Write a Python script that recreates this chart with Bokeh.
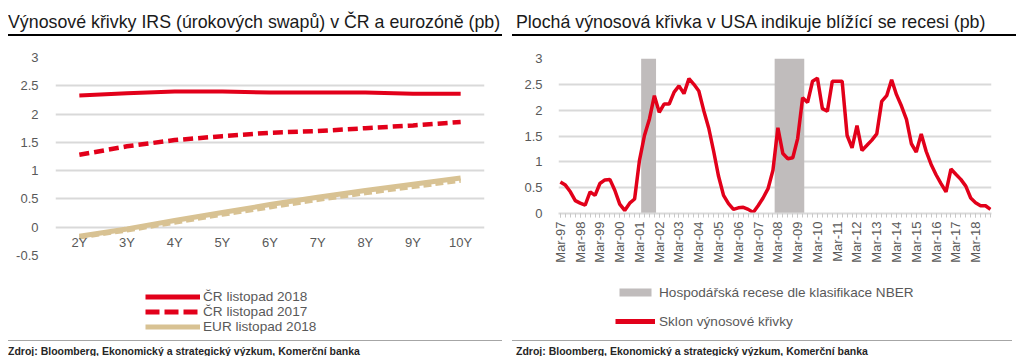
import math
import pandas as pd
from bokeh.plotting import figure
from bokeh.models import (FactorRange, Range1d, FixedTicker, NumeralTickFormatter,
                          Legend, Div, DatetimeTickFormatter)
from bokeh.layouts import row, column
from bokeh.embed import file_html
from bokeh.resources import INLINE

FONT = "Liberation Sans"
RED = "#e2001a"
TAN = "#d8c293"
REC_GREY = "#c0bcbc"
GRID = "#d9d9d9"
LABEL = "#595959"

# ---------------- left chart data ----------------
tenors = ["2Y", "3Y", "4Y", "5Y", "6Y", "7Y", "8Y", "9Y", "10Y"]
cz_nov2018 = [2.33, 2.37, 2.40, 2.40, 2.38, 2.38, 2.38, 2.36, 2.36]
cz_nov2017 = [1.28, 1.43, 1.54, 1.61, 1.67, 1.70, 1.75, 1.80, 1.86]
eur_nov2018 = [-0.16, -0.03, 0.12, 0.26, 0.40, 0.53, 0.65, 0.76, 0.87]
eur_nov2017 = [-0.18, -0.06, 0.08, 0.22, 0.35, 0.48, 0.60, 0.71, 0.82]
left_yticks = [-0.5, 0, 0.5, 1, 1.5, 2, 2.5, 3]

# ---------------- right chart data ----------------
us_dates = pd.date_range("1997-03-01", periods=88, freq="3MS")
us_slope = [0.61, 0.55, 0.42, 0.25, 0.20, 0.16, 0.42, 0.35,
            0.58, 0.65, 0.66, 0.45, 0.18, 0.06, 0.20, 0.28,
            1.03, 1.51, 1.83, 2.28, 1.96, 2.12, 2.12, 2.35,
            2.47, 2.32, 2.61, 2.50, 2.37, 1.99, 1.65, 1.20,
            0.72, 0.35, 0.19, 0.08, 0.11, 0.12, 0.08, 0.02,
            0.15, 0.30, 0.48, 0.84, 1.66, 1.16, 1.06, 1.08,
            1.45, 2.24, 2.15, 2.56, 2.62, 2.03, 1.98, 2.56,
            2.56, 2.56, 1.51, 1.27, 1.70, 1.22, 1.32, 1.42,
            1.54, 2.17, 2.28, 2.59, 2.30, 2.08, 1.82, 1.35,
            1.19, 1.54, 1.20, 0.95, 0.75, 0.58, 0.42, 0.86,
            0.76, 0.66, 0.53, 0.30, 0.21, 0.15, 0.15, 0.08]
rec_start = ["2001-04-01", "2008-01-01"]
rec_end = ["2002-01-01", "2009-07-01"]
right_yticks = [0, 0.5, 1, 1.5, 2, 2.5, 3]
major_tick_dates = [pd.Timestamp(f"{y}-03-01") for y in range(1997, 2019)]
minor_tick_dates = pd.date_range("1997-03-01", "2018-12-01", freq="3MS")

title_left = "Výnosové křivky IRS (úrokových swapů) v ČR a eurozóně (pb)"
title_right = "Plochá výnosová křivka v USA indikuje blížící se recesi (pb)"
source_text = "Zdroj: Bloomberg, Ekonomický a strategický výzkum, Komerční banka"
legend_left = ["ČR listopad 2018", "ČR listopad 2017", "EUR listopad 2018"]
legend_right = ["Hospodářská recese dle klasifikace NBER", "Sklon výnosové křivky"]


def ms(ts):
    return ts.value // 10**6


def style_common(p):
    p.outline_line_color = None
    p.background_fill_color = "white"
    p.border_fill_color = "white"
    p.xgrid.visible = False
    p.ygrid.grid_line_color = GRID
    p.ygrid.grid_line_width = 2
    p.yaxis.axis_line_color = None
    p.yaxis.major_tick_line_color = None
    p.yaxis.minor_tick_line_color = None
    p.yaxis.major_label_text_font = FONT
    p.yaxis.major_label_text_font_size = "13px"
    p.yaxis.major_label_text_color = LABEL
    p.yaxis.formatter = NumeralTickFormatter(format="0.[0]")
    p.xaxis.major_label_text_font = FONT
    p.xaxis.major_label_text_color = LABEL
    p.xaxis.major_label_text_font_size = "13px"


def legend_figure(height, x_range):
    # legend strip below each chart; its proxy glyphs hold the real series but
    # lie outside this strip's y range, so only the legend swatches show
    lf = figure(width=504, height=height, x_range=x_range, y_range=Range1d(100, 101),
                output_backend="svg", toolbar_location=None, min_border=0, margin=0)
    lf.axis.visible = False
    lf.grid.visible = False
    lf.outline_line_color = None
    return lf


def style_legend(leg):
    leg.padding = 0
    leg.margin = 0
    leg.border_line_color = None
    leg.background_fill_alpha = 0
    leg.label_text_font = FONT
    leg.label_text_font_size = "13.6px"
    leg.label_text_color = LABEL


# ---------------- left figure ----------------
p1 = figure(width=504, height=229, x_range=FactorRange(*tenors),
            y_range=Range1d(-0.5, 3), output_backend="svg", toolbar_location=None,
            min_border_left=47, min_border_right=28, min_border_top=21,
            min_border_bottom=10, margin=0)
style_common(p1)
p1.yaxis.ticker = FixedTicker(ticks=left_yticks)
p1.ygrid.ticker = FixedTicker(ticks=left_yticks)
p1.yaxis.major_label_standoff = 11
p1.xaxis.fixed_location = 0
p1.xaxis.axis_line_color = None
p1.xaxis.major_tick_line_color = None
p1.xaxis.minor_tick_line_color = None
p1.xaxis.major_label_standoff = 2

p1.line(tenors, eur_nov2017, color=TAN, line_width=4, line_dash="8 4")
p1.line(tenors, eur_nov2018, color=TAN, line_width=5)
p1.line(tenors, cz_nov2017, color=RED, line_width=4.5, line_dash="10 5")
p1.line(tenors, cz_nov2018, color=RED, line_width=4)

lf1 = legend_figure(75, FactorRange(*tenors))
k1 = lf1.line(tenors, cz_nov2018, color=RED, line_width=5)
k2 = lf1.line(tenors, cz_nov2017, color=RED, line_width=5, line_dash="14 5")
k3 = lf1.line(tenors, eur_nov2018, color=TAN, line_width=5)
leg1 = Legend(items=list(zip(legend_left, [[k1], [k2], [k3]])),
              location=(90, 6.5), orientation="vertical")
style_legend(leg1)
leg1.spacing = 0
leg1.glyph_width = 55
leg1.glyph_height = 15
leg1.label_height = 15
leg1.label_standoff = 3
lf1.add_layout(leg1, "center")

# ---------------- right figure ----------------
x2_start, x2_end = pd.Timestamp("1997-01-25"), pd.Timestamp("2018-12-20")
p2 = figure(width=504, height=234, x_axis_type="datetime",
            x_range=Range1d(x2_start, x2_end),
            y_range=Range1d(0, 3), output_backend="svg", toolbar_location=None,
            min_border_left=46, min_border_right=25, min_border_top=22,
            min_border_bottom=57, margin=0)
style_common(p2)
p2.yaxis.ticker = FixedTicker(ticks=right_yticks)
p2.ygrid.ticker = FixedTicker(ticks=right_yticks)
p2.yaxis.major_label_standoff = 10

p2.quad(left=pd.to_datetime(rec_start), right=pd.to_datetime(rec_end),
        bottom=0, top=3, fill_color=REC_GREY, line_color=None)
p2.line(us_dates, us_slope, color=RED, line_width=3.5)

p2.xaxis.ticker = FixedTicker(ticks=[ms(t) for t in major_tick_dates],
                              minor_ticks=[ms(t) for t in minor_tick_dates])
fmt = "%b-%y"
p2.xaxis.formatter = DatetimeTickFormatter(microseconds=fmt, milliseconds=fmt, seconds=fmt,
                                           minsec=fmt, minutes=fmt, hourmin=fmt, hours=fmt,
                                           days=fmt, months=fmt, years=fmt)
p2.xaxis.major_label_orientation = math.pi / 2
p2.xaxis.axis_line_color = GRID
p2.xaxis.axis_line_width = 2
p2.xaxis.major_tick_line_color = "#c8c8c8"
p2.xaxis.minor_tick_line_color = "#c8c8c8"
p2.xaxis.major_tick_out = 4
p2.xaxis.major_tick_in = 0
p2.xaxis.minor_tick_out = 4
p2.xaxis.minor_tick_in = 0
p2.xaxis.major_label_standoff = 4

lf2 = legend_figure(70, Range1d(x2_start, x2_end))
kq = lf2.quad(left=pd.to_datetime(rec_start), right=pd.to_datetime(rec_end),
              bottom=0, top=3, fill_color=REC_GREY, line_color=None)
kl = lf2.line(us_dates, us_slope, color=RED, line_width=5)
leg2 = Legend(items=list(zip(legend_right, [[kq], [kl]])),
              location=(57, 11.5), orientation="vertical")
style_legend(leg2)
leg2.spacing = 14
leg2.glyph_width = 40
leg2.glyph_height = 10
leg2.label_height = 15
leg2.label_standoff = 4
lf2.add_layout(leg2, "center")

# ---------------- titles and footers ----------------
def title_div(text, width, pad_left):
    return Div(text=text, width=width, height=28, margin=0,
               styles={"font-family": FONT, "font-size": "17.8px", "color": "#1a1a1a",
                       "border-bottom": "2px solid #000", "box-sizing": "border-box",
                       "padding-top": "2px", "padding-left": f"{pad_left}px",
                       "white-space": "nowrap", "overflow": "hidden"})


def foot_div(text, width, pad_left):
    return Div(text=text, width=width, height=16, margin=0,
               styles={"font-family": FONT, "font-size": "10.5px", "font-weight": "bold",
                       "color": "#262626", "border-top": "1px solid #a6a6a6",
                       "box-sizing": "border-box", "padding-top": "3px",
                       "padding-left": f"{pad_left}px", "white-space": "nowrap",
                       "overflow": "hidden"})


left_col = column(title_div(title_left, 494, 0), p1, lf1, foot_div(source_text, 494, 0),
                  margin=0, spacing=0)
right_col = column(title_div(title_right, 504, 4), p2, lf2, foot_div(source_text, 500, 4),
                   margin=0, spacing=0)
layout = row(left_col, right_col, margin=(8, 0, 0, 8), spacing=0)

open("out.html", "w").write(file_html(layout, INLINE))
